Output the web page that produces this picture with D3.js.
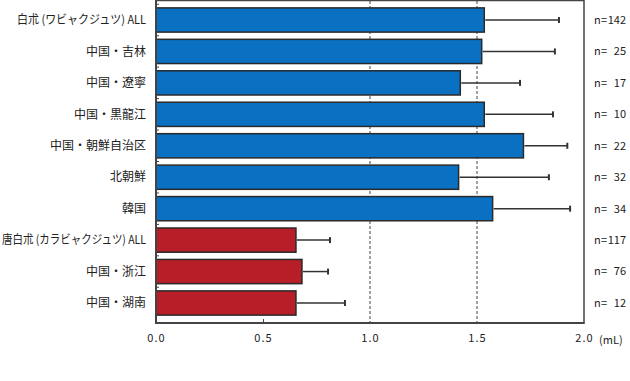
<!DOCTYPE html>
<meta charset="utf-8">
<style>
body { margin: 0; background: #fff; }
svg text { font-family: 'Noto Sans CJK JP', sans-serif; fill: #222; }
.cat { font-size: 12px; }
.nlab { font-size: 11px; }
.tick text { font-size: 11px; letter-spacing: 1px; }
</style>
<body>
<script src="https://d3js.org/d3.v7.min.js"></script>
<script>

var width = 630,
    height = 381;

var categories = ["白朮 (ワビャクジュツ) ALL", "中国・吉林", "中国・遼寧", "中国・黒龍江",
                  "中国・朝鮮自治区", "北朝鮮", "韓国",
                  "唐白朮 (カラビャクジュツ) ALL", "中国・浙江", "中国・湖南"];
var means  = [1.534, 1.522, 1.422, 1.534, 1.717, 1.414, 1.573, 0.654, 0.682, 0.654];
var upper  = [1.883, 1.864, 1.701, 1.855, 1.922, 1.836, 1.935, 0.813, 0.804, 0.883];
var counts = [142, 25, 17, 10, 22, 32, 34, 117, 76, 12];
var groups = ["w", "w", "w", "w", "w", "w", "w", "k", "k", "k"];
var xTicks = [0, 0.5, 1.0, 1.5, 2.0];
var gridAt = [1.0, 1.5];

var x = d3.scaleLinear().domain([0, 2]).range([156, 584]);
var y = d3.scaleBand().domain(categories).range([0.5, 322.5])
    .paddingInner(0.23).paddingOuter(0.235);
var color = d3.scaleOrdinal().domain(["w", "k"]).range(["#0a70c2", "#b81e27"]);

var svg = d3.select("body").append("svg")
    .attr("width", width)
    .attr("height", height);

// dashed grid lines
svg.append("g").selectAll("line").data(gridAt).enter().append("line")
    .attr("x1", d => x(d)).attr("x2", d => x(d))
    .attr("y1", 1).attr("y2", 322)
    .attr("stroke", "#444").attr("stroke-width", 1)
    .attr("stroke-dasharray", "3,2");

// bars
svg.append("g").selectAll("rect").data(categories).enter().append("rect")
    .attr("x", x(0))
    .attr("y", d => y(d))
    .attr("width", (d, i) => x(means[i]) - x(0))
    .attr("height", y.bandwidth())
    .attr("fill", (d, i) => color(groups[i]))
    .attr("stroke", "#2a2a2a")
    .attr("stroke-width", 1.5);

// error bars
var err = svg.append("g").selectAll("g").data(categories).enter().append("g");
err.append("line")
    .attr("x1", (d, i) => x(means[i]) + 1)
    .attr("x2", (d, i) => x(upper[i]))
    .attr("y1", d => y(d) + y.bandwidth() / 2)
    .attr("y2", d => y(d) + y.bandwidth() / 2)
    .attr("stroke", "#333").attr("stroke-width", 1.5);
err.append("line")
    .attr("x1", (d, i) => x(upper[i]))
    .attr("x2", (d, i) => x(upper[i]))
    .attr("y1", d => y(d) + y.bandwidth() / 2 - 3)
    .attr("y2", d => y(d) + y.bandwidth() / 2 + 3)
    .attr("stroke", "#333").attr("stroke-width", 2);

// frame
svg.append("path")
    .attr("d", "M" + x(0) + ",0.5H" + x(2) + "V322.5")
    .attr("fill", "none").attr("stroke", "#444").attr("stroke-width", 1.5);
svg.append("path")
    .attr("d", "M" + x(0) + ",0V323H" + (x(2) + 0.75))
    .attr("fill", "none").attr("stroke", "#444").attr("stroke-width", 2);

// small ticks on the left axis between bars
var bounds = categories.slice(1).map(d => y(d) - y.step() * y.paddingInner() / 2);
bounds.push(y(categories[0]) - y.step() * y.paddingInner() / 2);
svg.append("g").selectAll("line").data(bounds).enter().append("line")
    .attr("x1", x(0)).attr("x2", x(0) + 3)
    .attr("y1", d => d).attr("y2", d => d)
    .attr("stroke", "#444").attr("stroke-width", 1);

// x axis
var xAxis = svg.append("g")
    .attr("transform", "translate(0,323)")
    .call(d3.axisBottom(x).tickValues(xTicks).tickFormat(d3.format(".1f"))
      .tickSize(-4).tickPadding(11));
xAxis.select(".domain").remove();
xAxis.selectAll(".tick line").attr("stroke", "#444")
    .attr("display", d => (d === 0.5 ? null : "none"));
xAxis.selectAll(".tick text").attr("fill", "#222");

svg.append("text").attr("class", "nlab")
    .attr("x", 599).attr("y", 344)
    .text("(mL)");

// category labels; long ones are squeezed like the condensed original font
var catText = svg.append("g").selectAll("text").data(categories).enter().append("text")
    .attr("class", "cat")
    .attr("x", 146)
    .attr("y", d => y(d) + y.bandwidth() / 2)
    .attr("dy", "0.35em")
    .attr("text-anchor", "end")
    .text(d => d);
catText.each(function(d) {
  var w = this.getComputedTextLength();
  if (d.indexOf("ALL") >= 0) {
    var target = d.indexOf("唐") === 0 ? 144 : 129;
    if (w > target) d3.select(this).attr("textLength", target).attr("lengthAdjust", "spacingAndGlyphs");
  }
});

// n labels: "n =" then the count right-aligned
var nG = svg.append("g").selectAll("g").data(counts).enter().append("g")
    .attr("transform", (d, i) => "translate(0," + (y(categories[i]) + y.bandwidth() / 2) + ")");
nG.append("text").attr("class", "nlab")
    .attr("x", 594).attr("dy", "0.35em")
    .text("n");
nG.append("text").attr("class", "nlab")
    .attr("x", 601).attr("dy", "0.35em")
    .text("=");
nG.append("text").attr("class", "nlab")
    .attr("x", 626).attr("dy", "0.35em")
    .attr("text-anchor", "end")
    .text(d => d);

</script>
</body>
